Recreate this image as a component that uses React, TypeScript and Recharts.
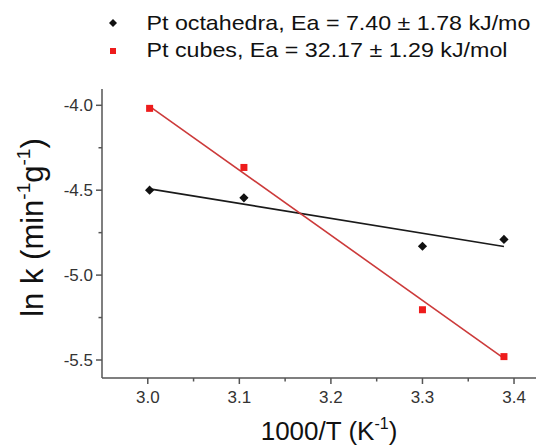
import React from "react";
import { ComposedChart, Scatter, Line, XAxis, YAxis, Legend } from "recharts";

// ---- data ----
const invTemperature = [3.002, 3.105, 3.3, 3.389];
const octahedraLnK = [-4.5, -4.545, -4.83, -4.79];
const cubesLnK = [-4.018, -4.366, -5.204, -5.48];
const fitX = [3.002, 3.389];
const octahedraFit = [-4.492, -4.832];
const cubesFit = [-4.006, -5.49];

const xMajorTicks = [3.0, 3.1, 3.2, 3.3, 3.4];
const xMinorTicks = [3.05, 3.15, 3.25, 3.35];
const yMajorTicks = [-5.5, -5.0, -4.5, -4.0];
const yMinorTicks = [-5.25, -4.75, -4.25];

const seriesNames = [
  "Pt octahedra, Ea = 7.40 ± 1.78 kJ/mol",
  "Pt cubes, Ea = 32.17 ± 1.29 kJ/mol",
];

const octData = invTemperature.map((x, i) => ({ x, y: octahedraLnK[i] }));
const cubeData = invTemperature.map((x, i) => ({ x, y: cubesLnK[i] }));
const octFitData = fitX.map((x, i) => ({ x, y: octahedraFit[i] }));
const cubeFitData = fitX.map((x, i) => ({ x, y: cubesFit[i] }));

const xTicks = [...xMajorTicks, ...xMinorTicks].sort((a, b) => a - b);
const yTicks = [...yMajorTicks, ...yMinorTicks].sort((a, b) => a - b);

const isMajor = (v: number, list: number[]) => list.some((m) => Math.abs(m - v) < 1e-6);

const AXIS = "#555";
const TICK_TEXT = "#333";
const RED = "#ee1c1c";
const RED_LINE = "#cc3a3a";
const FONT = "'Liberation Sans', Arial, sans-serif";

const XTick = (props: any) => {
  const { x, y, payload } = props;
  const major = isMajor(payload.value, xMajorTicks);
  return (
    <g>
      <line x1={x} x2={x} y1={y} y2={y + (major ? 6 : 3.5)} stroke={AXIS} strokeWidth={1.5} />
      {major && (
        <text x={x} y={y + 25} textAnchor="middle" fontSize={17} fill={TICK_TEXT} fontFamily={FONT}>
          {payload.value.toFixed(1)}
        </text>
      )}
    </g>
  );
};

const YTick = (props: any) => {
  const { x, y, payload } = props;
  const major = isMajor(payload.value, yMajorTicks);
  return (
    <g>
      <line x1={x} x2={x - (major ? 6 : 3.5)} y1={y} y2={y} stroke={AXIS} strokeWidth={1.5} />
      {major && (
        <text x={x - 9} y={y + 6} textAnchor="end" fontSize={17} fill={TICK_TEXT} fontFamily={FONT}>
          {payload.value.toFixed(1)}
        </text>
      )}
    </g>
  );
};

const Diamond = (props: any) => {
  const { cx, cy, fill } = props;
  const r = 4.6;
  return <path d={`M${cx},${cy - r}L${cx + r},${cy}L${cx},${cy + r}L${cx - r},${cy}Z`} fill={fill} />;
};

const Square = (props: any) => {
  const { cx, cy, fill } = props;
  const s = 7;
  return <rect x={cx - s / 2} y={cy - s / 2} width={s} height={s} fill={fill} />;
};

const LegendContent = (props: any) => {
  const payload = props.payload || [];
  const lengths = [389, 361];
  return (
    <svg width={531} height={70} style={{ display: "block" }}>
      {seriesNames.map((name, i) => {
        const entry = payload.find((p: any) => p.value === name);
        const color = entry ? entry.color : i === 0 ? "#111" : RED;
        const cy = 23 + i * 28;
        const txtY = 29.5 + i * 27.5;
        const marker =
          i === 0 ? (
            <path d={`M113,${cy - 4}L117,${cy}L113,${cy + 4}L109,${cy}Z`} fill={color} />
          ) : (
            <rect x={110} y={cy - 3} width={6} height={6} fill={color} />
          );
        return (
          <g key={name}>
            {marker}
            <text x={146.5} y={txtY} fontSize={21} fill="#111" textLength={lengths[i]}
              lengthAdjust="spacingAndGlyphs" fontFamily={FONT}>
              {name}
            </text>
          </g>
        );
      })}
    </svg>
  );
};

const XLabel = () => (
  <text x={329} y={440} textAnchor="middle" fontSize={26} fill="#111" fontFamily={FONT}>
    <tspan>1000/T (K</tspan>
    <tspan dy={-11} fontSize={16}>-1</tspan>
    <tspan dy={11}>)</tspan>
  </text>
);

const YLabel = () => (
  <text transform="translate(43,227.5) rotate(-90)" x={0} y={0} textAnchor="middle" fontSize={31}
    fill="#111" fontFamily={FONT}>
    <tspan>ln k (min</tspan>
    <tspan dy={-13} fontSize={19}>-1</tspan>
    <tspan dy={13}>g</tspan>
    <tspan dy={-13} fontSize={19}>-1</tspan>
    <tspan dy={13}>)</tspan>
  </text>
);

export default function App() {
  return (
    <div style={{ position: "absolute", left: 0, top: 0, background: "#fff" }}>
      <ComposedChart width={536} height={447} margin={{ top: 89, right: 0, bottom: 0, left: 0 }}>
        <XAxis
          type="number"
          dataKey="x"
          domain={[2.95, 3.424]}
          allowDataOverflow
          ticks={xTicks}
          interval={0}
          tick={<XTick />}
          tickLine={false}
          tickSize={0}
          tickMargin={0}
          height={69}
          stroke={AXIS}
          strokeWidth={1.5}
          label={<XLabel />}
        />
        <YAxis
          type="number"
          dataKey="y"
          domain={[-5.606, -3.904]}
          allowDataOverflow
          ticks={yTicks}
          interval={0}
          tick={<YTick />}
          tickLine={false}
          tickSize={0}
          tickMargin={0}
          width={102}
          stroke={AXIS}
          strokeWidth={1.5}
          label={<YLabel />}
        />
        <Line data={octFitData} dataKey="y" stroke="#1a1a1a" strokeWidth={1.6} dot={false}
          isAnimationActive={false} legendType="none" />
        <Line data={cubeFitData} dataKey="y" stroke={RED_LINE} strokeWidth={1.6} dot={false}
          isAnimationActive={false} legendType="none" />
        <Scatter name={seriesNames[0]} data={octData} dataKey="y" fill="#111" shape={<Diamond />}
          isAnimationActive={false} />
        <Scatter name={seriesNames[1]} data={cubeData} dataKey="y" fill={RED} shape={<Square />}
          isAnimationActive={false} />
        <Legend
          layout="horizontal"
          verticalAlign="middle"
          align="center"
          wrapperStyle={{ top: 0, left: 0, width: 536, height: 70 }}
          content={<LegendContent />}
        />
      </ComposedChart>
    </div>
  );
}
